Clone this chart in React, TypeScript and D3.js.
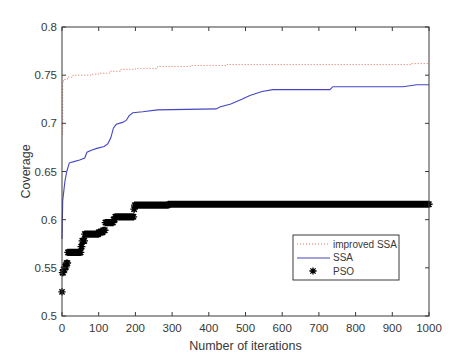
import React from "react";
import * as d3 from "d3";

const xTicks = [0, 100, 200, 300, 400, 500, 600, 700, 800, 900, 1000];
const yTicks = [0.5, 0.55, 0.6, 0.65, 0.7, 0.75, 0.8];

// improved SSA (best-so-far, breakpoints)
const impIter = [0, 2, 8, 15, 30, 80, 100, 130, 160, 200, 260, 350, 450, 900, 950, 1000];
const impVal = [0.689, 0.744, 0.746, 0.748, 0.75, 0.751, 0.752, 0.754, 0.756, 0.757, 0.759, 0.76, 0.761, 0.761, 0.762, 0.762];

// SSA
const ssaIter = [0, 2, 8, 13, 20, 30, 48, 62, 68, 80, 95, 115, 125, 133, 140, 148, 165, 175, 183, 193, 220, 260, 420, 430, 460, 490, 512, 545, 575, 730, 738, 929, 967, 1000];
const ssaVal = [0.58, 0.62, 0.64, 0.65, 0.659, 0.66, 0.662, 0.664, 0.67, 0.672, 0.674, 0.676, 0.679, 0.685, 0.695, 0.699, 0.701, 0.703, 0.708, 0.711, 0.712, 0.714, 0.715, 0.717, 0.72, 0.725, 0.729, 0.733, 0.735, 0.735, 0.738, 0.738, 0.74, 0.74];

// PSO (step changes of best-so-far; marker drawn at every iteration)
const psoIter = [0, 1, 4, 8, 12, 16, 52, 55, 62, 100, 112, 118, 140, 145, 196, 198, 290];
const psoVal = [0.525, 0.545, 0.548, 0.551, 0.555, 0.566, 0.572, 0.578, 0.585, 0.587, 0.589, 0.597, 0.6, 0.603, 0.611, 0.615, 0.616];
const maxIter = 1000;

const seriesNames = ["improved SSA", "SSA", "PSO"];

const W = 474, H = 355;
const L = 62, R = 429, T = 27, B = 316;

export default function App() {
  const x = d3.scaleLinear().domain([0, 1000]).range([L, R]);
  const y = d3.scaleLinear().domain([0.5, 0.8]).range([B, T]);

  const stepLine = d3.line<[number, number]>().x(d => x(d[0])).y(d => y(d[1])).curve(d3.curveStepAfter);
  const smoothLine = d3.line<[number, number]>().x(d => x(d[0])).y(d => y(d[1]));

  const impPts = impIter.map((v, i) => [v, impVal[i]] as [number, number]);
  const ssaPts = ssaIter.map((v, i) => [v, ssaVal[i]] as [number, number]);

  const bis = d3.bisector((d: number) => d).right;
  const psoPts = d3.range(0, maxIter + 1).map(it => {
    const k = bis(psoIter, it) - 1;
    return [it, psoVal[Math.max(0, k)]] as [number, number];
  });

  const a = 3.6, dgl = 2.6;
  const star = (cx: number, cy: number) =>
    `M${cx - a},${cy}h${2 * a}M${cx},${cy - a}v${2 * a}M${cx - dgl},${cy - dgl}l${2 * dgl},${2 * dgl}M${cx - dgl},${cy + dgl}l${2 * dgl},${-2 * dgl}`;
  const psoPath = psoPts.map(p => star(x(p[0]), y(p[1]))).join("");

  const axisColor = "#3a3a3a";
  const textColor = "#383838";
  const font = "Liberation Sans, Arial, sans-serif";
  const redC = "#d9705a";
  const blueC = "#4646c4";

  return (
    <svg width={W} height={H} style={{ position: "fixed", left: 0, top: 0, background: "#fff" }} fontFamily={font}>
      <rect x={0} y={0} width={W} height={H} fill="#fff" />
      {/* series */}
      <path d={stepLine(impPts) || ""} fill="none" stroke={redC} strokeWidth={1} strokeDasharray="1,2" />
      <path d={smoothLine(ssaPts) || ""} fill="none" stroke={blueC} strokeWidth={1.1} />
      <path d={psoPath} fill="none" stroke="#000" strokeWidth={1.3} />

      {/* box */}
      <rect x={L} y={T} width={R - L} height={B - T} fill="none" stroke={axisColor} strokeWidth={1} />
      {xTicks.map(t => (
        <g key={"x" + t}>
          <line x1={x(t)} x2={x(t)} y1={B} y2={B - 4} stroke={axisColor} />
          <line x1={x(t)} x2={x(t)} y1={T} y2={T + 4} stroke={axisColor} />
          <text x={x(t)} y={332} fontSize={11.5} textAnchor="middle" fill={textColor}>{t}</text>
        </g>
      ))}
      {yTicks.map(t => (
        <g key={"y" + t}>
          <line x1={L} x2={L + 4} y1={y(t)} y2={y(t)} stroke={axisColor} />
          <line x1={R} x2={R - 4} y1={y(t)} y2={y(t)} stroke={axisColor} />
          <text x={57} y={y(t) + 4} fontSize={11.5} textAnchor="end" fill={textColor}>{t}</text>
        </g>
      ))}
      <text x={(L + R) / 2} y={350} fontSize={12.5} textAnchor="middle" fill={textColor}>Number of iterations</text>
      <text transform={`translate(30,${(T + B) / 2}) rotate(-90)`} fontSize={12.5} textAnchor="middle" fill={textColor}>Coverage</text>

      {/* legend */}
      <rect x={293} y={235} width={106} height={45} fill="#fff" stroke={axisColor} strokeWidth={1} />
      <line x1={297} x2={330} y1={244} y2={244} stroke={redC} strokeDasharray="1,2" />
      <line x1={297} x2={330} y1={258} y2={258} stroke={blueC} strokeWidth={1.1} />
      <path d={star(313, 271)} stroke="#000" strokeWidth={1.3} fill="none" />
      {seriesNames.map((n, i) => (
        <text key={n} x={333} y={247.5 + i * 13.5} fontSize={10} fill={textColor}>{n}</text>
      ))}
    </svg>
  );
}
